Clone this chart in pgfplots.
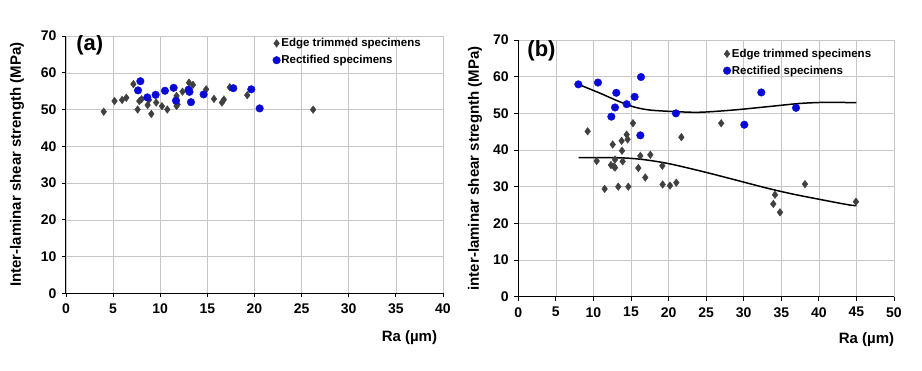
\documentclass[border=0pt]{standalone}
\usepackage{fontspec}
\setmainfont{Liberation Sans}
\usepackage{pgfplots}
\pgfplotsset{compat=1.18}

\definecolor{edgegray}{RGB}{64,64,64}
\definecolor{rectblue}{RGB}{10,10,215}

\pgfplotsset{
  panel/.style={
    scale only axis,
    anchor=south west,
    axis x line*=bottom,
    axis y line*=left,
    axis line style={black, line width=1pt},
    ymin=0, ymax=70, ytick={0,10,...,70},
    grid=major,
    major grid style={gray!45, line width=0.5pt},
    tick align=outside,
    major tick length=4pt,
    tick style={black, line width=0.8pt},
    /pgf/number format/assume math mode=true,
    tick label style={font=\fontsize{14}{16}\selectfont\bfseries},
    x tick label style={yshift=-3pt},
    y tick label style={xshift=-2pt},
    label style={font=\fontsize{15}{17}\selectfont\bfseries},
    legend style={draw=none, fill=none, anchor=north west, inner sep=0pt,
      font=\fontsize{11.5}{13}\selectfont\bfseries,
      row sep=5pt, nodes={inner sep=1pt}},
    legend cell align=left,
    legend image code/.code={\draw[#1] plot coordinates {(0pt,0pt)};},
  },
  edge/.style={only marks, mark=diamond*, mark size=3.8pt, color=edgegray},
  rect/.style={only marks, mark=*, mark size=3.8pt, color=rectblue},
}

\begin{document}
\begin{tikzpicture}[x=1pt,y=1pt]
\path[use as bounding box] (0,0) rectangle (922,371);

% ---- panel (a)
\begin{axis}[panel,
  at={(66pt,77.7pt)}, width=377pt, height=257.3pt,
  xmin=0, xmax=40, xtick={0,5,...,40},
  ylabel={Inter-laminar shear strength (MPa)},
  ylabel style={at={(axis description cs:-0.13,0.5)}, anchor=center},
  xlabel={Ra (µm)},
  xlabel style={at={(axis description cs:0.911,-0.174)}, anchor=center},
  legend style={at={(axis description cs:0.548,0.995)}},
]
\addplot[edge] coordinates {
  (4.0,49.4) (5.15,52.3) (5.95,52.6) (6.4,53.2) (7.15,56.9) (7.6,50.0)
  (7.78,52.3) (8.02,52.8) (8.66,51.2) (8.8,52.6) (9.05,48.8) (9.57,51.9)
  (10.18,50.9) (10.75,50.0) (11.73,53.7) (11.73,50.95) (11.84,51.4)
  (12.36,54.85) (13.05,57.3) (13.47,56.7) (14.87,55.5) (15.7,52.9)
  (16.55,51.9) (16.75,52.7) (17.38,56.05) (19.23,53.9) (26.22,49.95)
};
\addlegendentry{Edge trimmed specimens}
\addplot[rect] coordinates {
  (7.64,55.2) (7.89,57.7) (8.63,53.3) (9.51,54.0) (10.5,55.1) (11.42,55.9)
  (11.67,52.4) (13.0,55.4) (13.1,54.8) (13.26,52.0) (14.6,54.1) (17.75,55.8)
  (19.66,55.5) (20.55,50.3)
};
\addlegendentry{Rectified specimens}
\node[font=\fontsize{22}{24}\selectfont\bfseries, anchor=north west]
  at (axis description cs:0.018,1.02) {(a)};
\end{axis}

% ---- panel (b)
\begin{axis}[panel,
  at={(518.3pt,74.3pt)}, width=375.7pt, height=256.7pt,
  xmin=0, xmax=50, xtick={0,5,...,50},
  ylabel={inter-laminar shear stregnth (MPa)},
  ylabel style={at={(axis description cs:-0.115,0.5)}, anchor=center},
  xlabel={Ra (µm)},
  xlabel style={at={(axis description cs:0.927,-0.169)}, anchor=center},
  legend style={at={(axis description cs:0.545,0.97)}},
]
\addplot[edge] coordinates {
  (9.23,45.1) (10.43,37.0) (11.49,29.4) (12.33,35.9) (12.56,41.5)
  (12.73,35.5) (12.87,37.4) (12.87,35.2) (13.3,30.0) (13.75,42.5)
  (13.8,39.8) (13.89,36.9) (14.42,44.2) (14.55,42.9) (14.64,30.0)
  (15.26,47.3) (15.97,35.1) (16.24,38.4) (16.9,32.5) (17.57,38.7)
  (19.17,35.7) (19.21,30.6) (20.19,30.3) (21.03,31.1) (21.7,43.5)
  (27.0,47.3) (33.94,25.3) (34.16,27.8) (34.83,23.0) (38.15,30.7)
  (44.94,25.9)
};
\addlegendentry{Edge trimmed specimens}
\addplot[rect] coordinates {
  (7.99,57.9) (10.6,58.4) (12.38,49.1) (12.87,51.6) (13.04,55.6)
  (14.42,52.5) (15.48,54.5) (16.24,44.0) (16.33,59.9) (20.98,50.0)
  (30.08,46.9) (32.34,55.7) (36.96,51.5)
};
\addlegendentry{Rectified specimens}
\addplot[black, line width=1.5pt, smooth, no marks, forget plot] coordinates {
  (8,57.9) (10.87,55.5) (13.1,53.5) (15.3,51.8) (17.5,50.9) (21.1,50.45)
  (24.2,50.3) (28.6,50.9) (33.1,51.8) (37.5,52.7) (41,53.0) (45,52.9)
};
\addplot[black, line width=1.5pt, smooth, no marks, forget plot] coordinates {
  (8.04,37.9) (13.1,37.9) (16.2,37.5) (19.75,36.4) (24.2,34.3) (28.6,32.0)
  (33.1,29.6) (36.5,28.0) (39.7,26.7) (44.1,25.0) (45,24.9)
};
\node[font=\fontsize{22}{24}\selectfont\bfseries, anchor=north west]
  at (axis description cs:0.015,1.01) {(b)};
\end{axis}
\end{tikzpicture}
\end{document}
